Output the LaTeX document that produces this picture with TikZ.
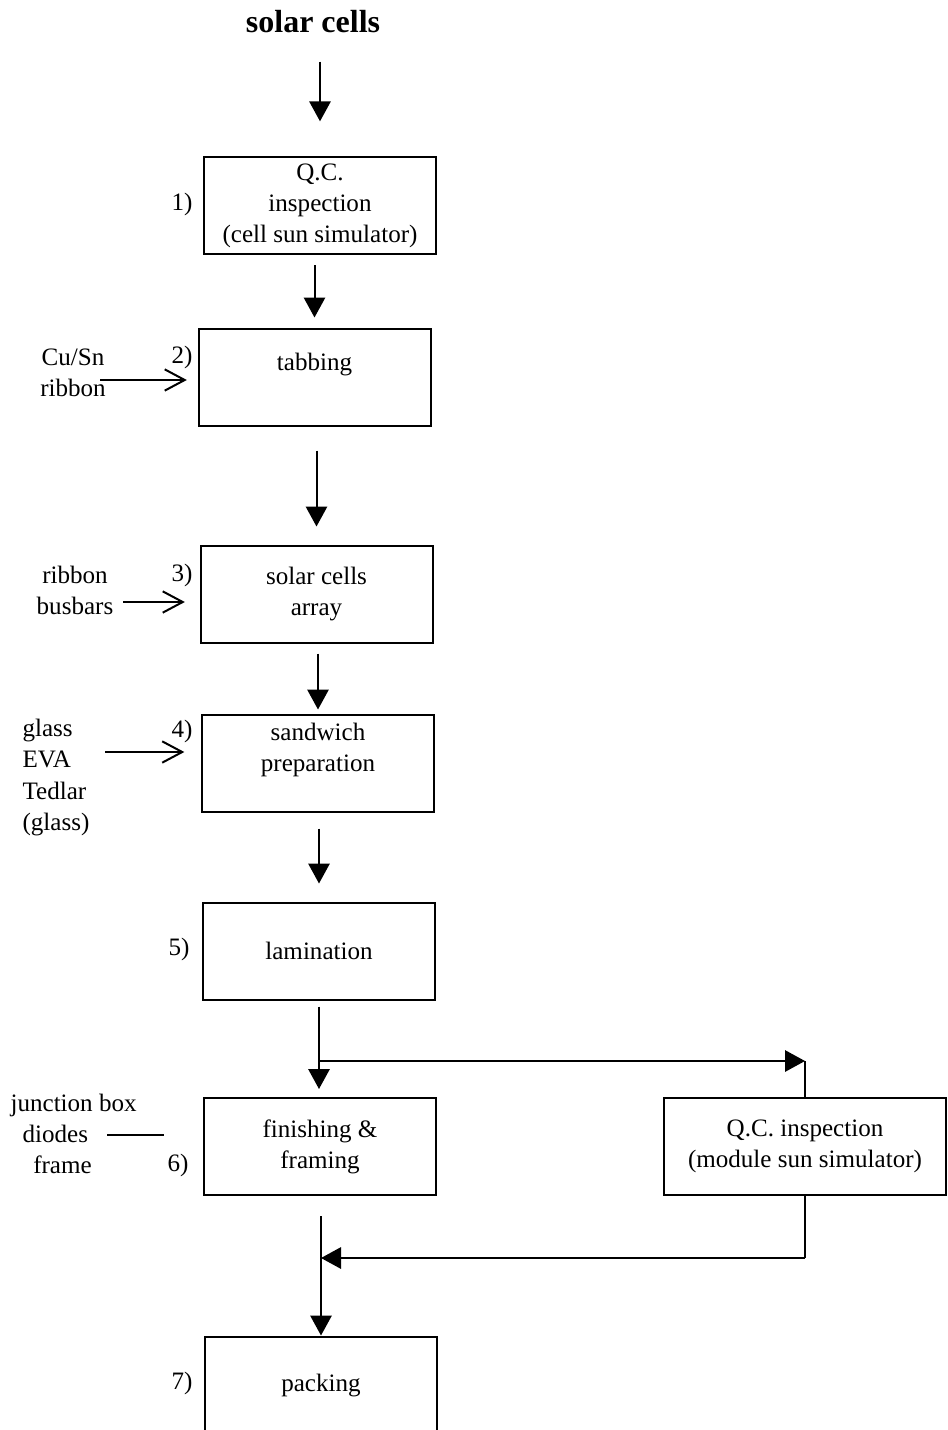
\documentclass[tikz,border=0pt]{standalone}
\usepackage{fontspec}
\setmainfont{Liberation Serif}
\usetikzlibrary{arrows.meta}

\begin{document}
\begin{tikzpicture}[x=0.75pt,y=-0.75pt,>={Triangle[length=15pt,width=16pt]},
  every node/.style={font=\fontsize{18.8}{23.3}\selectfont,inner sep=1pt},
  stage/.style={draw,line width=1.5pt,minimum width=174pt,minimum height=72.75pt,align=center},
  flow/.style={->,line width=1.5pt},
  feed/.style={-{Straight Barb[length=15pt,width=16pt]},line width=1.5pt}]
  \useasboundingbox (0,0) rectangle (948,1430);
  % process stages
  \node[font=\fontsize{24}{28}\selectfont\bfseries] (title) at (313,22) {solar cells};
  \node[stage] (qcCell) at (320,205.5) {Q.C.\\inspection\\(cell sun simulator)};
  \node[stage] (tab) at (314.5,377) {tabbing\\~};
  \node[stage] (array) at (316.5,594) {solar cells\\array};
  \node[stage] (sand) at (318,763) {sandwich\\preparation\\~};
  \node[stage] (lam) at (319,951) {lamination};
  \node[stage] (fin) at (320,1146.5) {finishing \&\\framing};
  \node[stage,minimum width=211.5pt] (qcMod) at (805,1146.5) {Q.C. inspection\\(module sun simulator)};
  \node[stage] (pack) at (321,1385) {packing};
  % step numbers
  \node[anchor=east] (n1) at (194,204) {1)};
  \node[anchor=east] (n2) at (194,357) {2)};
  \node[anchor=east] (n3) at (194,575) {3)};
  \node[anchor=east] (n4) at (194,731) {4)};
  \node[anchor=east] (n5) at (191,949) {5)};
  \node[anchor=east] (n6) at (190,1165) {6)};
  \node[anchor=east] (n7) at (194,1383) {7)};
  % materials fed in
  \node[align=center] (cusn) at (73,372.5) {Cu/Sn\\ribbon};
  \node[align=center] (busbar) at (75,590) {ribbon\\busbars};
  \node[align=left,anchor=west] (layers) at (21,777.5) {glass\\EVA\\Tedlar\\(glass)};
  \node[align=left,anchor=west] (parts) at (9,1134) {junction box\\\hspace*{9pt}diodes\\\hspace*{17pt}frame};
  \coordinate (cusnIn) at (100,380);
  \coordinate (busbarIn) at (123,602);
  \coordinate (layersIn) at (105,752);
  \coordinate (partsIn) at (107,1135);
  \draw[feed,shorten >=8pt] (cusnIn) -- (cusnIn -| tab.west);
  \draw[feed,shorten >=11pt] (busbarIn) -- (busbarIn -| array.west);
  \draw[feed,shorten >=12.5pt] (layersIn) -- (layersIn -| sand.west);
  \draw[line width=1.5pt,shorten >=29pt] (partsIn) -- (partsIn -| fin.west);
  % main flow
  \draw[flow,shorten <=20pt,shorten >=26pt] (title.south -| qcCell.north) -- (qcCell.north);
  \draw[flow,shorten <=7.5pt,shorten >=7.5pt] (tab.north |- qcCell.south) -- (tab.north);
  \draw[flow,shorten <=18pt,shorten >=13.5pt] (array.north |- tab.south) -- (array.north);
  \draw[flow,shorten <=7.5pt,shorten >=3pt] (sand.north |- array.south) -- (sand.north);
  \draw[flow,shorten <=12pt,shorten >=13.5pt] (lam.north |- sand.south) -- (lam.north);
  \draw[flow,shorten <=4.5pt,shorten >=6pt] (lam.south) -- (lam.south |- fin.north);
  \draw[flow,shorten <=15pt] (pack.north |- fin.south) -- (pack.north);
  % inspection loop
  \coordinate (split) at (lam.south |- 0,1061);
  \coordinate (merge) at (pack.north |- 0,1258);
  \draw[flow] (split) -- (split -| qcMod.north);
  \draw[line width=1.5pt] (split -| qcMod.north) -- (qcMod.north);
  \draw[line width=1.5pt] (qcMod.south) -- (qcMod.south |- merge);
  \draw[flow] (qcMod.south |- merge) -- (merge);
\end{tikzpicture}
\end{document}
